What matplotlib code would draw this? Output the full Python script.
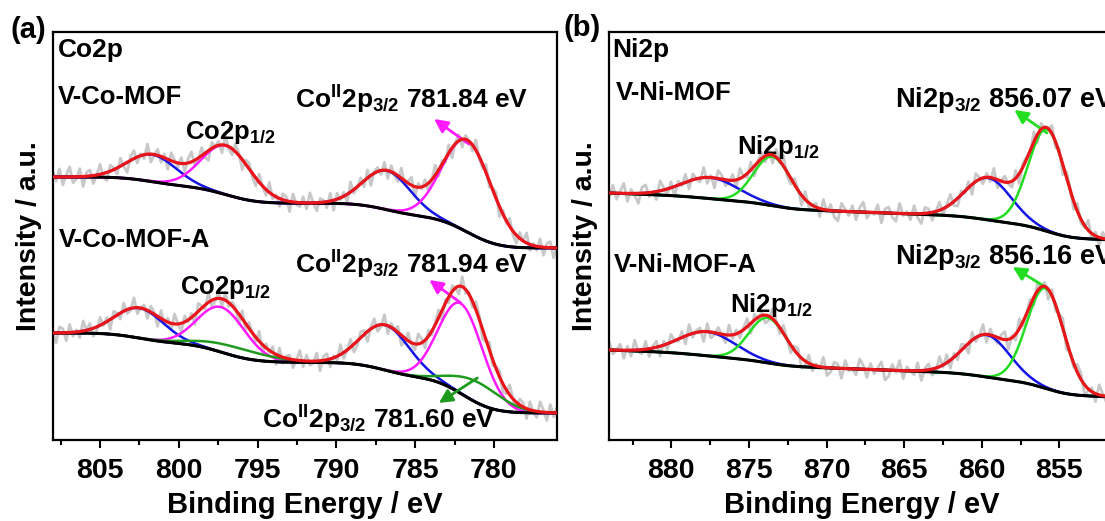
import math
import numpy as np
import matplotlib
matplotlib.use("Agg")
import matplotlib.pyplot as plt

# --- fonts / style ---
plt.rcParams['font.family'] = ['Liberation Sans', 'DejaVu Sans']
plt.rcParams['font.weight'] = 'bold'
plt.rcParams['mathtext.fontset'] = 'custom'
plt.rcParams['mathtext.rm'] = 'Liberation Sans:bold'
plt.rcParams['mathtext.it'] = 'Liberation Sans:bold'
plt.rcParams['mathtext.bf'] = 'Liberation Sans:bold'

RED, BLUE, MAG = '#e8161b', '#1414e6', '#ff1aff'
GREEN_A, GREEN_B = '#1e9a1e', '#22dd22'
GREY = '#c8c8c8'

# --- Co2p panel (a): binding energy window, fitted peaks ---
XLIM_A = (808.0, 776.0)
CO_TOP_CENTERS = [801.7, 797.0, 786.8, 781.7]
CO_TOP_HEIGHTS = [27, 49, 39, 92]
CO_TOP_SIGMAS = [1.55, 1.55, 1.5, 1.55]
CO_TOP_BG = (263, 192)          # background at left / right edge

CO_BOT_CENTERS = [802.5, 797.3, 796.5, 786.9, 782.1, 781.06]
CO_BOT_HEIGHTS = [30, 45, 9, 45, 90, 21]
CO_BOT_SIGMAS = [1.55, 1.5, 2.2, 1.55, 1.4, 1.6]
CO_BOT_BG = (107, 27)

# --- Ni2p panel (b) ---
XLIM_B = (884.0, 851.5)
NI_TOP_CENTERS = [877.5, 873.5, 859.6, 855.8]
NI_TOP_HEIGHTS = [21, 49, 42, 102]
NI_TOP_SIGMAS = [1.8, 1.2, 1.5, 1.2]
NI_TOP_BG = (247, 200)

NI_BOT_CENTERS = [877.7, 873.8, 859.7, 855.9]
NI_BOT_HEIGHTS = [24, 45, 42, 100]
NI_BOT_SIGMAS = [1.8, 1.2, 1.5, 1.2]
NI_BOT_BG = (90, 43)

# raw-signal scatter around the fit
NOISE_A = [3, -2, 4, -4, 1, 5, -3, -1, 4, -5, 2, 3, -4, 0, 5, -2, -4, 3, 1, -3,
           4, -1, -5, 2, 4, -3, 1, -2, 5, -4, 0, 3, -3, 2, -5, 4, 1, -2, 3, -4,
           2, 5, -3, -1, 4, -2, -5, 3, 0, 2, -4, 5, -1, -3, 4, 1, -5, 2, 3, -2,
           -4, 4, 0, -3, 5, -2, 1, -4, 3, 2, -5, 4, -1, -2, 3, -3, 5, 0, -4, 2,
           1, -3, 4, -5, 3, -1, 2, -4, 5, -2, 0, 3, -3, 4, -5, 1, 2, -2, 4, -4,
           3, -1, -3, 5, -2, 1, 4, -5, 2, -1, 3, -4, 0, 5, -3, 2, -2, 4, -5, 1,
           3, -4, 2, 0, -3, 5, -1, -2, 4, -3, 1, 3, -5, 2, -1, 4, -2, -4, 3, 0,
           5, -3, 1, -2, 4, -4, 2, 3, -5, 1]
NOISE_B = [-2, 4, -3, 1, 5, -4, 2, -1, -5, 3, 4, -2, 0, -4, 5, 1, -3, 3, -5, 2,
           -1, 4, -4, 3, 0, -2, 5, -3, 1, -5, 4, 2, -3, -1, 3, -4, 5, 0, -2, 4,
           -5, 1, 3, -3, 2, -4, 4, -1, 5, -2, -3, 3, 1, -5, 4, -2, 0, 2, -4, 5,
           -1, 3, -3, -5, 4, 1, -2, 3, -4, 2, 5, -3, 0, -1, 4, -5, 2, 3, -2, -4,
           5, -1, 1, -3, 4, -2, -5, 3, 2, -4, 0, 4, -3, 1, 5, -2, -4, 2, -1, 3,
           -5, 4, 1, -3, 2, -2, 5, -4, 0, 3, -1, -3, 4, -5, 2, 1, -2, 5, -4, 3,
           -1, 0, 4, -3, 2, -5, 3, 1, -4, 4, -2, -1, 5, -3, 2, -4, 3, 0, -2, 4]

erf = np.vectorize(math.erf)


def fit_curves(E, xlim, centers, heights, sigmas, bg, shirley=1.0):
    """Gaussian components on a Shirley-type background."""
    e_left, e_right = xlim
    comps = [h * np.exp(-0.5 * ((E - c) / s) ** 2)
             for c, h, s in zip(centers, heights, sigmas)]

    def area(e):
        tot = 0.0
        for c, h, s in zip(centers, heights, sigmas):
            k = s * math.sqrt(2)
            tot = tot + h * s * math.sqrt(math.pi / 2) * (erf((e - c) / k) - math.erf((e_right - c) / k))
        return tot

    a_norm = area(E) / area(np.array([e_left]))[0]
    lin = (E - e_right) / (e_left - e_right)
    base = bg[1] + (bg[0] - bg[1]) * (shirley * a_norm + (1 - shirley) * lin)
    return base, comps


def draw_spectrum(ax, xlim, centers, heights, sigmas, bg, colors, noise, shirley=1.0):
    E = np.linspace(xlim[0], xlim[1], 600)
    base, comps = fit_curves(E, xlim, centers, heights, sigmas, bg, shirley)
    Er = np.linspace(xlim[0], xlim[1], len(noise))
    base_r, comps_r = fit_curves(Er, xlim, centers, heights, sigmas, bg, shirley)
    raw = base_r + np.sum(comps_r, axis=0) + 2.0 * np.array(noise)
    ax.plot(Er, raw, color=GREY, lw=2.0, zorder=1)
    for comp, col in zip(comps, colors):
        ax.plot(E, base + comp, color=col, lw=1.8, zorder=2)
    ax.plot(E, base, color='black', lw=2.2, zorder=3)
    ax.plot(E, base + np.sum(comps, axis=0), color=RED, lw=2.3, zorder=4)


def style_axis(ax, xlim, major):
    ax.set_xlim(*xlim)
    ax.set_ylim(0, 408)
    ax.set_yticks([])
    ax.set_xticks(major)
    ax.set_xticks([m + 2.5 for m in major] + [major[0] - 2.5], minor=True)
    ax.tick_params(axis='x', which='major', length=6, width=1.5, labelsize=20.5, pad=7)
    ax.tick_params(axis='x', which='minor', length=3.5, width=1.5)
    for sp in ax.spines.values():
        sp.set_linewidth(1.6)
    ax.set_xlabel('Binding Energy / eV', fontsize=21, fontweight='bold')
    ax.set_ylabel('Intensity / a.u.', fontsize=20.5, fontweight='bold')
    ax.xaxis.set_label_coords(0.5, -0.125)
    ax.yaxis.set_label_coords(-0.022, 0.5)


fig = plt.figure(figsize=(11.05, 5.21), dpi=100)
ax_a = fig.add_axes([0.0477, 0.1555, 0.4564, 0.7831])
ax_b = fig.add_axes([0.5514, 0.1555, 0.4564, 0.7831])

# ---- (a) Co2p ----
draw_spectrum(ax_a, XLIM_A, CO_TOP_CENTERS, CO_TOP_HEIGHTS, CO_TOP_SIGMAS, CO_TOP_BG,
              [BLUE, MAG, BLUE, MAG], NOISE_A)
draw_spectrum(ax_a, XLIM_A, CO_BOT_CENTERS, CO_BOT_HEIGHTS, CO_BOT_SIGMAS, CO_BOT_BG,
              [BLUE, MAG, GREEN_A, BLUE, MAG, GREEN_A], NOISE_A[::-1])
style_axis(ax_a, XLIM_A, [805, 800, 795, 790, 785, 780])

fs = 18.5
fs_pk = 19
ax_a.text(807.7, 390, 'Co2p', fontsize=19, va='center', ha='left')
ax_a.text(807.7, 343, 'V-Co-MOF', fontsize=fs, va='center', ha='left')
ax_a.text(807.6, 200, 'V-Co-MOF-A', fontsize=fs, va='center', ha='left')
ax_a.text(799.6, 307, r'Co2p$_{1/2}$', fontsize=fs, va='center', ha='left')
ax_a.text(799.9, 152, r'Co2p$_{1/2}$', fontsize=fs, va='center', ha='left')
ax_a.text(792.6, 340, r'Co$^{\rm II}$2p$_{3/2}$ 781.84 eV', fontsize=fs_pk, va='center', ha='left')
ax_a.text(792.6, 175, r'Co$^{\rm II}$2p$_{3/2}$ 781.94 eV', fontsize=fs_pk, va='center', ha='left')
ax_a.text(794.75, 20, r'Co$^{\rm II}$2p$_{3/2}$ 781.60 eV', fontsize=fs_pk, va='center', ha='left')

arr = dict(arrowstyle='-|>', lw=2, mutation_scale=20, shrinkA=0, shrinkB=0)
ax_a.annotate('', xy=(783.8, 321), xytext=(781.6, 296), arrowprops=dict(arr, color=MAG))
ax_a.annotate('', xy=(784.1, 160), xytext=(782.1, 137), arrowprops=dict(arr, color=MAG))
ax_a.annotate('', xy=(783.5, 37), xytext=(781.06, 62), arrowprops=dict(arr, color=GREEN_A))

# ---- (b) Ni2p ----
draw_spectrum(ax_b, XLIM_B, NI_TOP_CENTERS, NI_TOP_HEIGHTS, NI_TOP_SIGMAS, NI_TOP_BG,
              [BLUE, GREEN_B, BLUE, GREEN_B], NOISE_B, shirley=0.6)
draw_spectrum(ax_b, XLIM_B, NI_BOT_CENTERS, NI_BOT_HEIGHTS, NI_BOT_SIGMAS, NI_BOT_BG,
              [BLUE, GREEN_B, BLUE, GREEN_B], NOISE_B[::-1], shirley=0.6)
style_axis(ax_b, XLIM_B, [880, 875, 870, 865, 860, 855])

ax_b.text(883.8, 390, 'Ni2p', fontsize=19, va='center', ha='left')
ax_b.text(883.6, 347, 'V-Ni-MOF', fontsize=fs, va='center', ha='left')
ax_b.text(883.7, 175, 'V-Ni-MOF-A', fontsize=fs, va='center', ha='left')
ax_b.text(875.8, 293, r'Ni2p$_{1/2}$', fontsize=fs, va='center', ha='left')
ax_b.text(876.2, 135, r'Ni2p$_{1/2}$', fontsize=fs, va='center', ha='left')
ax_b.text(865.6, 340, r'Ni2p$_{3/2}$ 856.07 eV', fontsize=19.5, va='center', ha='left')
ax_b.text(865.6, 183, r'Ni2p$_{3/2}$ 856.16 eV', fontsize=19.5, va='center', ha='left')
ax_b.annotate('', xy=(857.9, 330), xytext=(855.8, 307), arrowprops=dict(arr, color=GREEN_B))
ax_b.annotate('', xy=(858.0, 173), xytext=(855.8, 152), arrowprops=dict(arr, color=GREEN_B))

fig.text(28 / 1105, 1 - 30 / 521, '(a)', fontsize=21, ha='center', va='center')
fig.text(582 / 1105, 1 - 28 / 521, '(b)', fontsize=21, ha='center', va='center')

fig.savefig('out.png', dpi=100)
